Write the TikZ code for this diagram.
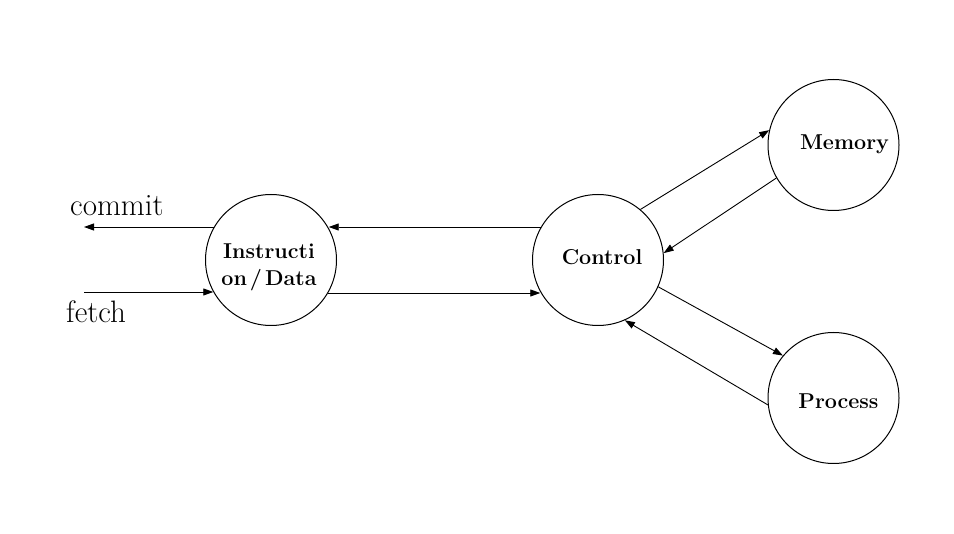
\documentclass[tikz,border=0pt]{standalone}
\usetikzlibrary{arrows.meta}
\begin{document}
\begin{tikzpicture}[x=1pt,y=-1pt,
  circ/.style={draw,circle,line width=1pt,minimum size=131pt,inner sep=0pt},
  lbl/.style={inner sep=0pt,anchor=base,font=\fontsize{21.5}{21.5}\selectfont\bfseries},
  side/.style={inner sep=0pt,anchor=base west,font=\fontsize{31}{31}\selectfont},
  conn/.style={line width=0.9pt,-{Triangle[length=10pt,width=7pt]}}]
\useasboundingbox (0,0) rectangle (954,534);
\node[circ] (ins) at (271,260) {};
\node[circ] (ctl) at (598,260) {};
\node[circ] (mem) at (833.5,145) {};
\node[circ] (pro) at (833.5,398) {};
\node[lbl] (inst1) at (269,259) {Instructi};
\node[lbl] (inst2) at (269,286) {on\kern3pt/\kern3pt Data};
\node[lbl] (ctlt) at (602,265) {Control};
\node[lbl] (memt) at (844.5,150) {Memory};
\node[lbl] (prot) at (838.5,409) {Process};
\node[side] (committ) at (70,216) {commit};
\node[side] (fetcht) at (66,323) {fetch};
\coordinate (xl) at (84,0);
\coordinate (cend) at (ins.150.7 -| xl);
\coordinate (fstart) at (ins.209.7 -| xl);
\draw[conn] (ins.150.7) -- (cend);
\draw[conn] (fstart) -- (ins.209.7);
\draw[conn] (ctl.150.7) -- (ctl.150.7 -| ins.29.3);
\draw[conn] (ins.-30.3) -- (ins.-30.3 -| ctl.209.7);
\draw[conn] (ctl.50.3) -- (mem.167.1);
\draw[conn] (mem.210.3) -- (ctl.6.6);
\draw[conn] (ctl.-24.1) -- (pro.140.9);
\draw[conn] (pro.186.1) -- (ctl.-66.5);
\end{tikzpicture}
\end{document}
